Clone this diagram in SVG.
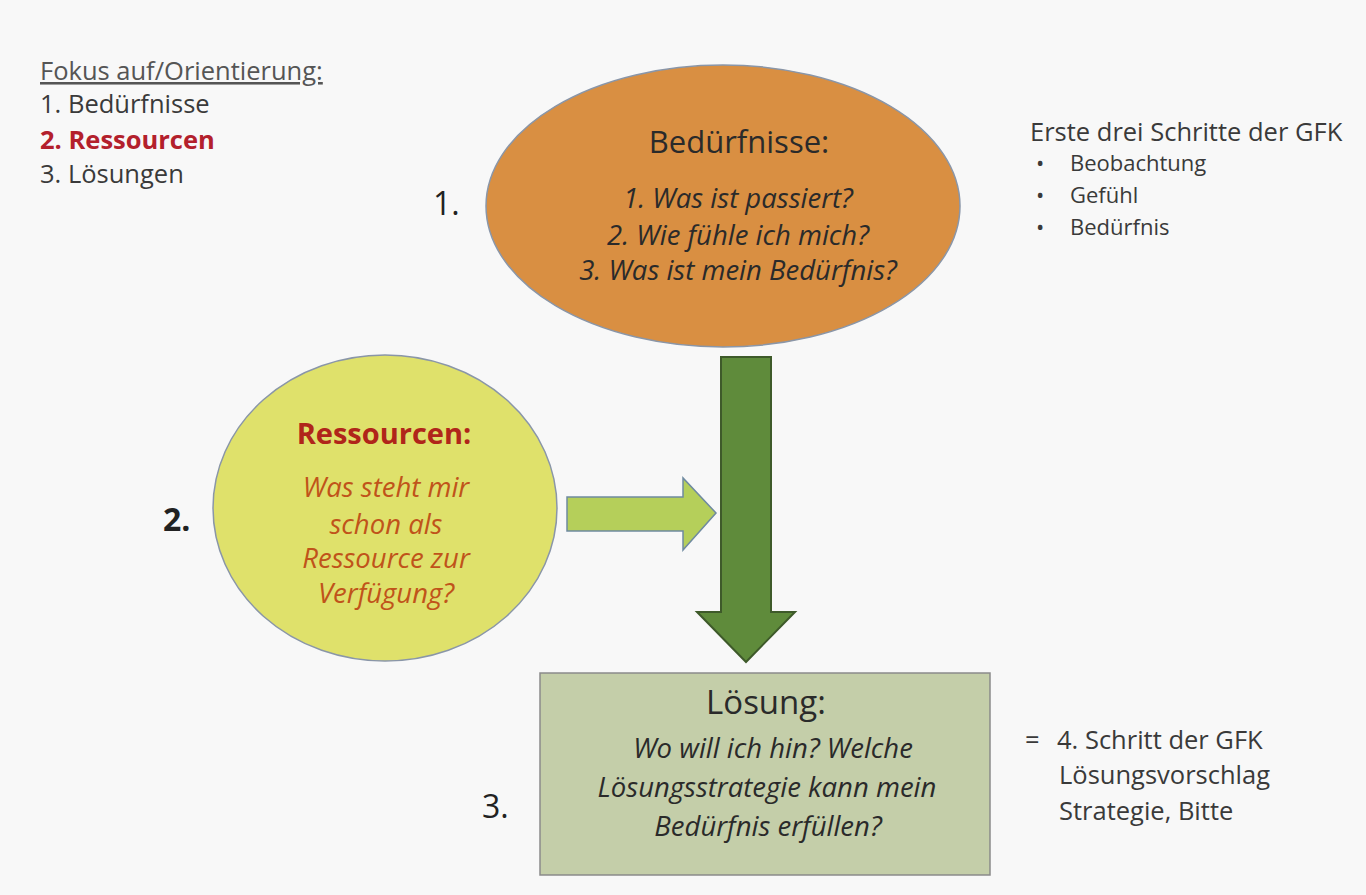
<svg xmlns="http://www.w3.org/2000/svg" width="1366" height="895" viewBox="0 0 1366 895">
<style>
text{font-family:"Open Sans","Liberation Sans",sans-serif;fill:#2a2a2a}
.t{font-size:25.5px;fill:#3a3a3a}
.b{font-size:22px;fill:#3a3a3a}
.num{font-size:32px;fill:#222}
.c{text-anchor:middle}
.it{font-style:italic;font-size:27.5px}
</style>
<rect x="0" y="0" width="1366" height="895" fill="#f8f8f8"/>
<g id="legend">
<text class="t" x="40" y="80" text-decoration="underline" style="fill:#555">Fokus auf/Orientierung:</text>
<text class="t" x="40" y="113">1. Bedürfnisse</text>
<text class="t" x="40" y="149" font-weight="bold" style="fill:#b3202c">2. Ressourcen</text>
<text class="t" x="40" y="183">3. Lösungen</text>
</g>
<g id="gfk-steps">
<text class="t" x="1030" y="141">Erste drei Schritte der GFK</text>
<text class="b" x="1036" y="171">•</text><text class="b" x="1070" y="171">Beobachtung</text>
<text class="b" x="1036" y="203">•</text><text class="b" x="1070" y="203">Gefühl</text>
<text class="b" x="1036" y="235">•</text><text class="b" x="1070" y="235">Bedürfnis</text>
</g>
<g id="gfk-step4">
<text class="t" x="1025" y="749">=</text>
<text class="t" x="1057" y="749">4. Schritt der GFK</text>
<text class="t" x="1059" y="784">Lösungsvorschlag</text>
<text class="t" x="1059" y="820">Strategie, Bitte</text>
</g>
<g id="connectors">
<path d="M721,357 H771 V612 H795 L746,662 L697,612 H721 Z" fill="#5f8b3b" stroke="#3e5a2a" stroke-width="2"/>
<path d="M567,497 H683 V478 L716,513 L683,550 V531 H567 Z" fill="#b5cf5a" stroke="#6f8aa0" stroke-width="1.5"/>
</g>
<g id="node-beduerfnisse">
<ellipse cx="723" cy="206" rx="237" ry="141" fill="#d98f42" stroke="#8a96a8" stroke-width="1.5"/>
<text class="c" x="739" y="153" font-size="31">Bedürfnisse:</text>
<text class="c it" x="738" y="208">1. Was ist passiert?</text>
<text class="c it" x="738" y="245">2. Wie fühle ich mich?</text>
<text class="c it" x="738" y="280">3. Was ist mein Bedürfnis?</text>
<text class="num" x="433" y="215">1.</text>
</g>
<g id="node-ressourcen">
<ellipse cx="385" cy="508" rx="172" ry="153" fill="#dfe16b" stroke="#8a96a8" stroke-width="1.5"/>
<text class="c" x="384" y="444" font-size="29" font-weight="bold" style="fill:#b0251a">Ressourcen:</text>
<text class="c it" x="386" y="497" style="fill:#c0531a">Was steht mir</text>
<text class="c it" x="386" y="534" style="fill:#c0531a">schon als</text>
<text class="c it" x="386" y="568" style="fill:#c0531a">Ressource zur</text>
<text class="c it" x="386" y="603" style="fill:#c0531a">Verfügung?</text>
<text class="num" x="163" y="531" font-weight="bold">2.</text>
</g>
<g id="node-loesung">
<rect x="540" y="673" width="450" height="202" fill="#c4cea9" stroke="#8a8a8a" stroke-width="1.5"/>
<text class="c" x="766" y="714" font-size="33">Lösung:</text>
<text class="c it" x="773" y="758">Wo will ich hin? Welche</text>
<text class="c it" x="767" y="797">Lösungsstrategie kann mein</text>
<text class="c it" x="768" y="836">Bedürfnis erfüllen?</text>
<text class="num" x="482" y="818">3.</text>
</g>
</svg>
